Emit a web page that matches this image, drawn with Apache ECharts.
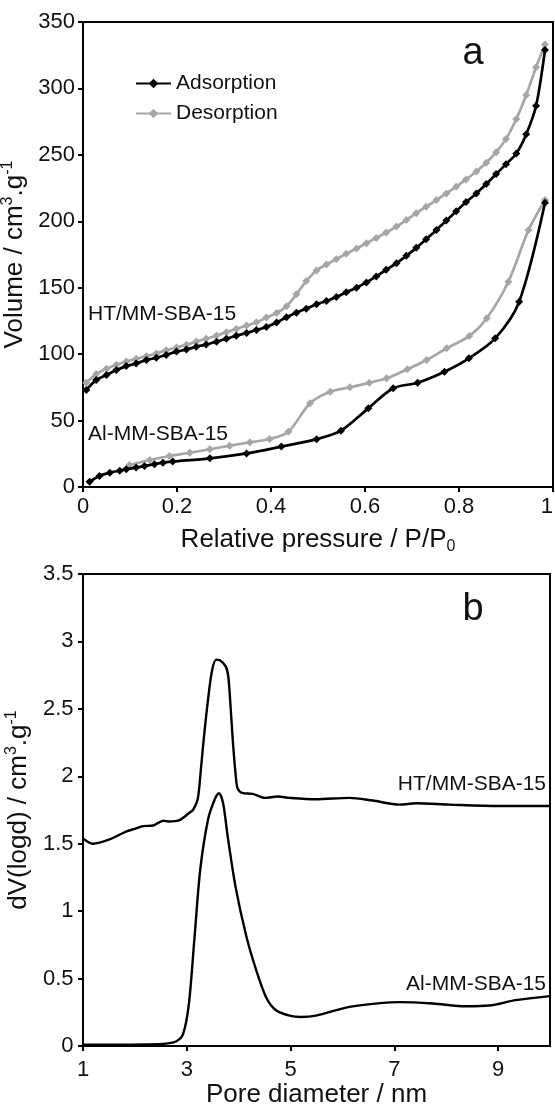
<!DOCTYPE html>
<html>
<head>
<meta charset="utf-8">
<script src="https://cdn.jsdelivr.net/npm/echarts@6.0.0/dist/echarts.min.js"></script>
<style>
  html, body { margin: 0; padding: 0; background: #fff; }
  #root { width: 555px; height: 1108px; }
</style>
</head>
<body>
<div id="root"></div>
<script>
// (a) N2 isotherms, x = relative pressure P/P0, y = volume (cm3/g)
const htP = [0.007, 0.028, 0.05, 0.071, 0.092, 0.113, 0.135, 0.156, 0.177, 0.199, 0.22, 0.241, 0.262, 0.284, 0.305, 0.326, 0.348, 0.369, 0.39, 0.412, 0.433, 0.454, 0.475, 0.497, 0.518, 0.539, 0.56, 0.582, 0.603, 0.624, 0.645, 0.667, 0.688, 0.709, 0.73, 0.752, 0.773, 0.794, 0.815, 0.837, 0.858, 0.879, 0.9, 0.922, 0.943, 0.964, 0.983];
const htAdsV = [73, 80.5, 84.3, 88, 91, 93, 95.6, 97.3, 99.4, 101.9, 103.5, 105.6, 107.2, 109.4, 111.6, 113.8, 116, 118.2, 120.5, 123.8, 127.8, 131.2, 134.2, 137.5, 140, 143, 146.5, 150, 154, 158.5, 163.5, 168.5, 174, 180, 186.5, 193.5, 200.5, 207.5, 214.5, 221, 228, 235.5, 243, 251, 265.5, 287, 329];
const htDesV = [78.5, 85, 89, 92, 94.5, 96.5, 98.5, 100.5, 103, 105, 107, 109.5, 111.5, 114, 116.5, 119, 121.5, 124, 127.5, 131, 136, 145, 155, 163, 167.5, 171.5, 175.5, 179.5, 183.5, 187.5, 191.5, 196, 201, 206, 211, 216, 221, 226, 231.5, 237.5, 244, 252, 262, 277, 295, 316, 333];

const alAdsP = [0.014, 0.035, 0.057, 0.078, 0.092, 0.113, 0.131, 0.152, 0.17, 0.191, 0.27, 0.348, 0.422, 0.497, 0.549, 0.607, 0.66, 0.712, 0.769, 0.821, 0.877, 0.928, 0.983];
const alAdsV = [4, 8.3, 10.8, 12.3, 13.3, 14.6, 15.8, 17.1, 18.3, 19.1, 21.6, 25.3, 30.4, 36, 42.4, 59.2, 74.3, 78.5, 86.8, 96.9, 111.9, 139.5, 214];
const alDesP = [0.099, 0.142, 0.184, 0.227, 0.27, 0.312, 0.355, 0.397, 0.437, 0.483, 0.526, 0.568, 0.609, 0.646, 0.69, 0.731, 0.774, 0.822, 0.859, 0.905, 0.948, 0.983];
const alDesV = [16.6, 20.3, 23.3, 25.8, 28.4, 31.1, 33.6, 36.1, 41.6, 63, 71.7, 75, 78.5, 81.8, 88.6, 95.6, 104.4, 113.7, 127, 154.5, 193.4, 216];

// (b) pore size distribution, x = pore diameter (nm), y = dV(logd)
const htD = [1, 1.19, 1.5, 1.83, 2.0, 2.16, 2.35, 2.45, 2.55, 2.65, 2.86, 3.05, 3.12, 3.21, 3.26, 3.32, 3.41, 3.49, 3.57, 3.64, 3.75, 3.8, 3.84, 3.89, 3.94, 3.98, 4.08, 4.27, 4.5, 4.75, 4.98, 5.49, 6.13, 6.58, 7.1, 7.42, 8.06, 9.02, 10];
const htDV = [1.54, 1.5, 1.53, 1.59, 1.61, 1.63, 1.635, 1.655, 1.67, 1.665, 1.675, 1.73, 1.75, 1.83, 2.0, 2.25, 2.57, 2.79, 2.865, 2.86, 2.815, 2.74, 2.54, 2.25, 2.02, 1.91, 1.875, 1.87, 1.84, 1.85, 1.84, 1.83, 1.84, 1.82, 1.79, 1.8, 1.79, 1.78, 1.78];
const alD = [1, 1.6, 2.2, 2.6, 2.8, 2.93, 3.04, 3.15, 3.26, 3.41, 3.54, 3.62, 3.7, 3.79, 3.94, 4.15, 4.34, 4.53, 4.72, 4.98, 5.2, 5.49, 6.13, 6.78, 7.1, 7.74, 8.38, 8.83, 9.34, 10];
const alDV = [0.01, 0.01, 0.012, 0.018, 0.035, 0.09, 0.31, 0.81, 1.31, 1.68, 1.83, 1.875, 1.8, 1.55, 1.18, 0.81, 0.56, 0.36, 0.265, 0.225, 0.215, 0.225, 0.29, 0.32, 0.325, 0.315, 0.295, 0.3, 0.34, 0.37];

const legendNames = ["Adsorption", "Desorption"];
const sampleNames = ["HT/MM-SBA-15", "Al-MM-SBA-15"];

const FONT = "'Liberation Sans', Arial, sans-serif";
const INK = "#111";
const GREY = "#a6a6a6";

const pairs = (xs, ys) => xs.map((x, i) => [x, ys[i]]);

const nameRich = {
  t: { fontSize: 26, lineHeight: 30, fontFamily: FONT, color: INK },
  sup: { fontSize: 16, lineHeight: 16, verticalAlign: "top", fontFamily: FONT, color: INK },
  sub: { fontSize: 16, lineHeight: 16, verticalAlign: "bottom", fontFamily: FONT, color: INK },
};

function valueAxis(grid, min, max, interval, margin) {
  return {
    type: "value",
    gridIndex: grid,
    min: min,
    max: max,
    interval: interval,
    nameLocation: "middle",
    nameTextStyle: { rich: nameRich },
    axisLine: { onZero: false, lineStyle: { color: "#000", width: 2 } },
    axisTick: { length: 5, lineStyle: { color: "#000", width: 2 } },
    axisLabel: { fontSize: 22, color: INK, fontFamily: FONT, margin: margin },
    splitLine: { show: false },
  };
}

function isoSeries(name, xs, ys, color, size, z) {
  return {
    name: name,
    type: "line",
    xAxisIndex: 0,
    yAxisIndex: 0,
    data: pairs(xs, ys),
    smooth: 0.3,
    symbol: "diamond",
    symbolSize: size,
    lineStyle: { color: color, width: 2.7 },
    itemStyle: { color: color },
    z: z,
  };
}

function psdSeries(name, xs, ys) {
  return {
    name: name,
    type: "line",
    xAxisIndex: 1,
    yAxisIndex: 1,
    data: pairs(xs, ys),
    smooth: 0.3,
    symbol: "none",
    lineStyle: { color: "#000", width: 2.4 },
  };
}

function note(text, x, y, align, size) {
  return {
    type: "text",
    x: x,
    y: y,
    style: {
      text: text,
      fontSize: size,
      fontFamily: FONT,
      fill: INK,
      align: align,
      verticalAlign: "middle",
    },
  };
}

const xTop = valueAxis(0, 0, 1, 0.2, 9);
xTop.name = "{t|Relative pressure / P/P}{sub|0}";
xTop.nameGap = 38;
xTop.axisLabel.alignMaxLabel = "right";
const yTop = valueAxis(0, 0, 350, 50, 8);
yTop.name = "{t|Volume / cm}{sup|3}{t|.g}{sup|-1}";
yTop.nameGap = 45;

const xBot = valueAxis(1, 1, 10, 2, 13);
xBot.name = "{t|Pore diameter / nm}";
xBot.nameGap = 31;
xBot.axisLabel.showMaxLabel = false;
const yBot = valueAxis(1, 0, 3.5, 0.5, 9.5);
yBot.name = "{t|dV(logd) / cm}{sup|3}{t|.g}{sup|-1}";
yBot.nameGap = 39;

const chart = echarts.init(document.getElementById("root"), null, { renderer: "canvas" });

chart.setOption({
  animation: false,
  backgroundColor: "#fff",
  grid: [
    { left: 83, top: 22, width: 470, height: 465, outerBoundsMode: "none", show: true, borderColor: "#000", borderWidth: 2 },
    { left: 83, top: 574, width: 467, height: 472, outerBoundsMode: "none", show: true, borderColor: "#000", borderWidth: 2 },
  ],
  xAxis: [xTop, xBot],
  yAxis: [yTop, yBot],
  legend: {
    data: legendNames,
    orient: "vertical",
    left: 130,
    top: 68,
    itemWidth: 35,
    itemHeight: 12,
    itemGap: 9,
    textStyle: { fontSize: 21, color: INK, fontFamily: FONT },
  },
  series: [
    isoSeries(legendNames[1], htP, htDesV, GREY, 8, 2),
    isoSeries(legendNames[1], alDesP, alDesV, GREY, 8, 2),
    isoSeries(legendNames[0], htP, htAdsV, "#000", 8, 3),
    isoSeries(legendNames[0], alAdsP, alAdsV, "#000", 8, 3),
    psdSeries(sampleNames[0] + " PSD", htD, htDV),
    psdSeries(sampleNames[1] + " PSD", alD, alDV),
  ],
  graphic: [
    note("a", 473, 54, "center", 38),
    note("b", 473, 610, "center", 38),
    note(sampleNames[0], 88, 314, "left", 21),
    note(sampleNames[1], 88, 434, "left", 21),
    note(sampleNames[0], 546, 784, "right", 21),
    note(sampleNames[1], 546, 984, "right", 21),
  ],
});
</script>
</body>
</html>
